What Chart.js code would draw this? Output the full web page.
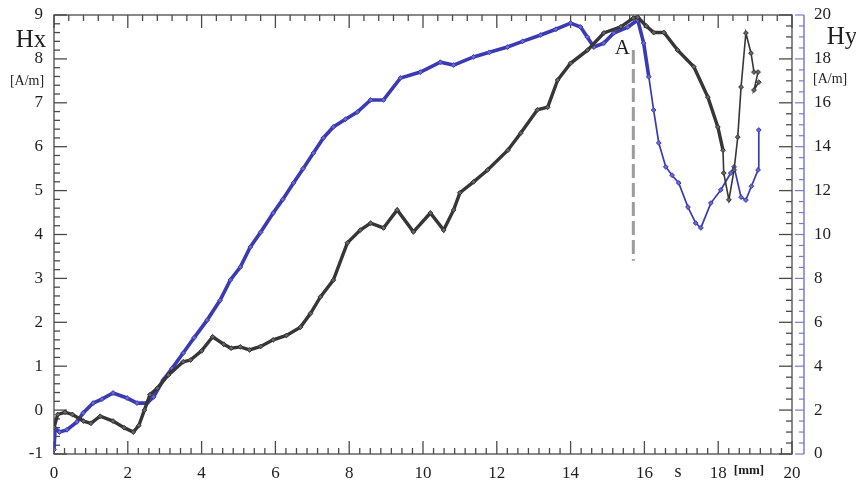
<!DOCTYPE html>
<html><head><meta charset="utf-8">
<script src="https://cdn.jsdelivr.net/npm/chart.js@4/dist/chart.umd.min.js"></script>
<style>html,body{margin:0;padding:0;background:#fff}canvas{display:block}</style>
</head><body>
<canvas id="c" width="856" height="484"></canvas>
<script>
// s [mm] positions and Hx [A/m] values (left axis)
const sHx = [0, 0.1, 0.3, 0.5, 0.8, 1.0, 1.25, 1.6, 1.9, 2.15,
  2.3, 2.45, 2.6, 2.8, 3.1, 3.5, 3.7, 4.0, 4.3, 4.6,
  4.8, 5.05, 5.3, 5.6, 5.94, 6.3, 6.68, 6.95, 7.22, 7.57,
  7.95, 8.3, 8.58, 8.93, 9.3, 9.74, 10.2, 10.56, 10.83, 11.0,
  11.37, 11.75, 12.3, 12.65, 13.1, 13.38, 13.65, 14.0, 14.46, 14.9,
  15.36, 15.7, 15.82, 16.05, 16.25, 16.53, 16.9, 17.34, 17.72, 17.99,
  18.13, 18.15, 18.29, 18.43, 18.53, 18.62, 18.75, 18.89, 18.97, 19.08,
  18.97, 19.1];
const hx = [-0.4, -0.1, -0.05, -0.1, -0.25, -0.3, -0.14, -0.25, -0.4, -0.5,
  -0.35, 0, 0.35, 0.5, 0.8, 1.1, 1.14, 1.35, 1.67, 1.5,
  1.41, 1.44, 1.37, 1.45, 1.6, 1.7, 1.89, 2.2, 2.58, 2.96,
  3.81, 4.1, 4.26, 4.15, 4.56, 4.06, 4.49, 4.1, 4.56, 4.95,
  5.2, 5.47, 5.92, 6.31, 6.84, 6.9, 7.52, 7.9, 8.2, 8.59,
  8.73, 8.93, 8.95, 8.75, 8.6, 8.6, 8.2, 7.82, 7.13, 6.45,
  5.92, 5.4, 4.79, 5.47, 6.22, 7.36, 8.59, 8.13, 7.7, 7.7,
  7.29, 7.47];
// s [mm] positions and Hy [A/m] values (right axis)
const sHy = [0, 0.03, 0.15, 0.35, 0.62, 0.79, 1.06, 1.3, 1.6, 1.98,
  2.25, 2.52, 2.7, 2.96, 3.2, 3.5, 3.8, 4.15, 4.5, 4.78,
  5.05, 5.32, 5.6, 5.94, 6.2, 6.49, 6.75, 7.03, 7.3, 7.57,
  7.9, 8.22, 8.58, 8.93, 9.39, 9.93, 10.47, 10.83, 11.37, 11.8,
  12.29, 12.7, 13.19, 13.6, 14.0, 14.27, 14.45, 14.63, 14.9, 15.17,
  15.55, 15.82, 15.98, 16.12, 16.25, 16.39, 16.58, 16.75, 16.93, 17.18,
  17.39, 17.53, 17.8, 18.07, 18.34, 18.43, 18.62, 18.75, 18.9, 19.08,
  19.1];
const hy = [0.2, 1.18, 1.0, 1.1, 1.46, 1.87, 2.32, 2.5, 2.78, 2.55,
  2.32, 2.32, 2.6, 3.37, 3.9, 4.6, 5.3, 6.1, 7.0, 7.93,
  8.52, 9.43, 10.1, 10.98, 11.6, 12.35, 13.0, 13.71, 14.4, 14.9,
  15.25, 15.58, 16.13, 16.13, 17.13, 17.4, 17.85, 17.72, 18.09, 18.3,
  18.54, 18.8, 19.09, 19.35, 19.63, 19.45, 19.0, 18.54, 18.72, 19.18,
  19.45, 19.77, 18.72, 17.18, 15.67, 14.17, 13.08, 12.7, 12.35, 11.25,
  10.52, 10.3, 11.43, 12.03, 12.8, 13.08, 11.7, 11.57, 12.2, 12.94,
  14.76];
// marker "A" (dashed vertical line)
const markS = [15.7, 15.7];
const markH = [8.2, 3.4];
const markLabel = 'A';
// axis ranges / tick steps
const xRange = [0, 20], xStep = 2;
const hxRange = [-1, 9], hxStep = 1;
const hyRange = [0, 20], hyStep = 2;

const SERIF = '"Liberation Serif", "DejaVu Serif", serif';
const pts = (xs, ys) => xs.map((v, i) => ({x: v, y: ys[i]}));

const deco = {
  id: 'deco',
  beforeDatasetsDraw(chart) {
    const {ctx, chartArea: a, scales} = chart;
    const xs = scales.x, ys = scales.y, y2 = scales.y2;
    ctx.save();
    ctx.lineWidth = 1.3;
    ctx.strokeStyle = '#4a4a4a';
    ctx.strokeRect(a.left, a.top, a.right - a.left, a.bottom - a.top);
    const line = (x1, y1, x2, y2_) => { ctx.beginPath(); ctx.moveTo(x1, y1); ctx.lineTo(x2, y2_); ctx.stroke(); };
    for (let i = 0; i <= 50; i++) {
      const v = -1 + i * 0.2, y = ys.getPixelForValue(v);
      const L = (i % 5 === 0) ? 13 : 6;
      line(a.left, y, a.left + L, y);
    }
    for (let i = 0; i <= 40; i++) {
      const v = -1 + i * 0.25, y = ys.getPixelForValue(v);
      const L = (i % 4 === 0) ? 13 : 6;
      line(a.right, y, a.right - L, y);
    }
    for (let i = 0; i <= 70; i++) {
      const v = i * 2 / 7, x = xs.getPixelForValue(v);
      const L = (i % 7 === 0) ? 13 : 6;
      line(x, a.bottom, x, a.bottom - L);
    }
    for (let i = 0; i <= 50; i++) {
      const v = i * 0.4, x = xs.getPixelForValue(v);
      const L = (i % 5 === 0) ? 13 : 6;
      line(x, a.top, x, a.top + L);
    }
    const bx = a.right + 12;
    ctx.strokeStyle = '#7a7ad4';
    ctx.lineWidth = 1.5;
    line(bx, a.top, bx, a.bottom);
    ctx.lineWidth = 1.2;
    for (let i = 0; i <= 40; i++) {
      const v = i * 0.5, y = y2.getPixelForValue(v);
      const L = (i % 4 === 0) ? 9 : 5;
      line(bx, y, bx - L, y);
    }
    ctx.restore();
  },
  afterDatasetsDraw(chart) {
    const {ctx, scales} = chart;
    ctx.save();
    ctx.fillStyle = '#1e1e1e';
    ctx.textAlign = 'center';
    ctx.textBaseline = 'middle';
    ctx.font = '25px ' + SERIF;
    ctx.fillText('Hx', 31, 40);
    ctx.fillText('Hy', 842, 37);
    ctx.font = '14px ' + SERIF;
    ctx.fillText('[A/m]', 27, 81);
    ctx.textAlign = 'left';
    ctx.fillText('[A/m]', 813, 79);
    ctx.textAlign = 'center';
    ctx.font = '18px ' + SERIF;
    ctx.fillText('s', 678, 472);
    ctx.font = 'bold 13px ' + SERIF;
    ctx.fillText('[mm]', 749, 471);
    ctx.font = '21px ' + SERIF;
    ctx.fillText(markLabel, scales.x.getPixelForValue(markS[0]) - 11, scales.y.getPixelForValue(markH[0]) - 2);
    ctx.restore();
  }
};

const fixY = (w) => function (s) { s.width = w; s.paddingTop = 0; s.paddingBottom = 0; };
const thinAfter = (lim, thick, thin) => (c) => (c.p0.parsed.x >= lim ? thin : thick);

new Chart(document.getElementById('c'), {
  type: 'line',
  data: {
    datasets: [
      {
        label: 'Hx', data: pts(sHx, hx), yAxisID: 'y',
        borderColor: '#363636', borderWidth: 3.4,
        segment: {borderWidth: thinAfter(18.1, 3.4, 1.6)},
        pointStyle: 'rectRot', pointRadius: 2.4,
        pointBackgroundColor: '#666', pointBorderColor: '#333', pointBorderWidth: 1,
        tension: 0
      },
      {
        label: 'Hy', data: pts(sHy, hy), yAxisID: 'y2',
        borderColor: '#3a3ab4', borderWidth: 3.6,
        segment: {borderWidth: thinAfter(16.0, 3.6, 1.7)},
        pointStyle: 'rectRot', pointRadius: 2.4,
        pointBackgroundColor: '#6a6ad0', pointBorderColor: '#3a3ab4', pointBorderWidth: 1,
        tension: 0
      },
      {
        label: 'A', data: pts(markS, markH), yAxisID: 'y',
        borderColor: '#9c9c9c', borderWidth: 3, borderDash: [14, 5],
        pointRadius: 0
      }
    ]
  },
  options: {
    responsive: false,
    animation: false,
    events: [],
    layout: {padding: {top: 15, left: 0, right: 0, bottom: 0}},
    plugins: {legend: {display: false}, tooltip: {enabled: false}},
    scales: {
      x: {
        type: 'linear', min: xRange[0], max: xRange[1],
        grid: {display: false, drawTicks: false}, border: {display: false},
        ticks: {stepSize: xStep, padding: 9, color: '#1e1e1e', font: {family: SERIF, size: 17}},
        afterFit(s) { s.height = 30; s.paddingLeft = 0; s.paddingRight = 0; }
      },
      y: {
        position: 'left', min: hxRange[0], max: hxRange[1],
        grid: {display: false, drawTicks: false}, border: {display: false},
        ticks: {stepSize: hxStep, padding: 11, color: '#1e1e1e', font: {family: SERIF, size: 17}},
        afterFit: fixY(54)
      },
      y2: {
        position: 'right', min: hyRange[0], max: hyRange[1],
        grid: {display: false, drawTicks: false}, border: {display: false},
        ticks: {stepSize: hyStep, padding: 22, color: '#1e1e1e', font: {family: SERIF, size: 17}},
        afterFit: fixY(64)
      }
    }
  },
  plugins: [deco]
});
</script>
</body></html>
